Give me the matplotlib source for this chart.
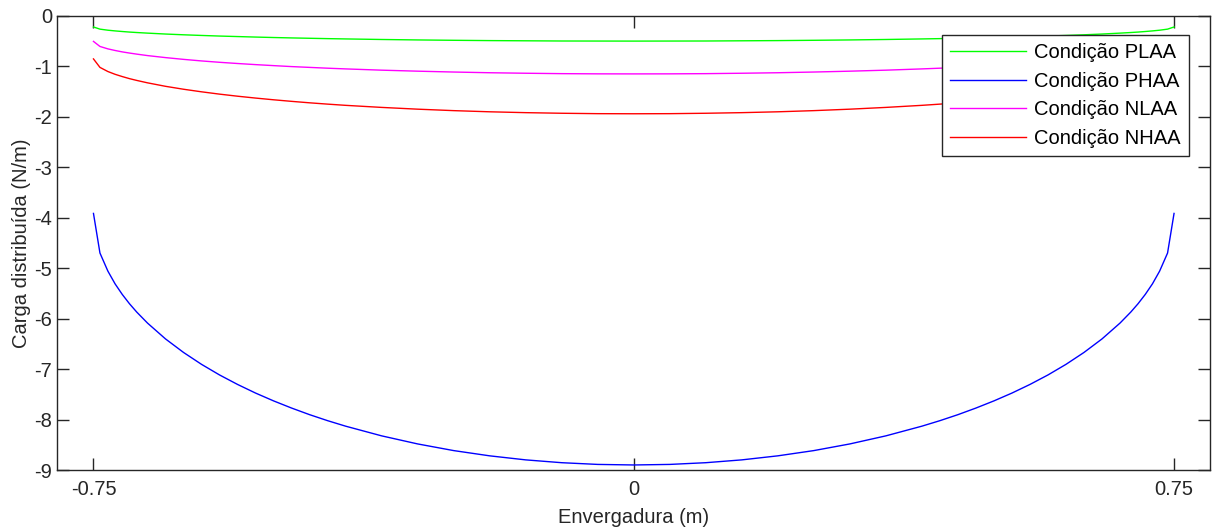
import numpy as np
import matplotlib.pyplot as plt

plt.rcParams['font.family'] = ['Liberation Sans', 'DejaVu Sans']
plt.rcParams['axes.unicode_minus'] = False

# Envergadura (m) - half span points, mirrored below
x_half = [-0.75, -0.741, -0.73, -0.72, -0.71, -0.70, -0.69, -0.675, -0.65, -0.625,
          -0.60, -0.575, -0.55, -0.525, -0.50, -0.475, -0.45, -0.425, -0.40,
          -0.35, -0.30, -0.25, -0.20, -0.15, -0.10, -0.05, 0.0]

plaa_half = [-0.22, -0.263, -0.284, -0.298, -0.310, -0.321, -0.330, -0.342, -0.360, -0.375,
             -0.388, -0.400, -0.410, -0.420, -0.429, -0.437, -0.444, -0.451, -0.457,
             -0.468, -0.477, -0.484, -0.490, -0.494, -0.498, -0.499, -0.500]
phaa_half = [-3.915, -4.70, -5.058, -5.311, -5.521, -5.705, -5.869, -6.088, -6.402, -6.670,
             -6.906, -7.116, -7.304, -7.475, -7.630, -7.772, -7.903, -8.022, -8.131,
             -8.323, -8.483, -8.615, -8.719, -8.799, -8.855, -8.889, -8.900]
nlaa_half = [-0.506, -0.606, -0.654, -0.686, -0.714, -0.737, -0.758, -0.787, -0.827, -0.862,
             -0.893, -0.920, -0.944, -0.966, -0.986, -1.005, -1.021, -1.037, -1.051,
             -1.076, -1.096, -1.113, -1.127, -1.137, -1.145, -1.149, -1.150]
nhaa_half = [-0.853, -1.021, -1.103, -1.158, -1.203, -1.244, -1.279, -1.327, -1.396, -1.454,
             -1.505, -1.551, -1.592, -1.629, -1.663, -1.694, -1.723, -1.749, -1.773,
             -1.814, -1.849, -1.878, -1.901, -1.918, -1.930, -1.938, -1.940]

labels = ['Condição PLAA', 'Condição PHAA', 'Condição NLAA', 'Condição NHAA']
colors = ['#00ff00', '#0000ff', '#ff00ff', '#ff0000']


def mirror(v, sign=1):
    v = np.array(v)
    return np.concatenate([v, sign * v[-2::-1]])


x = mirror(x_half, -1)
series = [mirror(plaa_half), mirror(phaa_half), mirror(nlaa_half), mirror(nhaa_half)]

fig = plt.figure(figsize=(12.12, 5.29), dpi=100)
ax = fig.add_axes([0.0474, 0.1115, 0.951, 0.8585])

for y, lab, c in zip(series, labels, colors):
    ax.plot(x, y, color=c, linewidth=1.0, label=lab)

ax.set_xlim(-0.8, 0.8)
ax.set_ylim(-9, 0)
ax.set_xticks([-0.75, 0, 0.75])
ax.set_xticklabels(['-0.75', '0', '0.75'])
ax.set_yticks(range(-9, 1))

dark = '#262626'
fs = 14.5
for s in ax.spines.values():
    s.set_color(dark)
    s.set_linewidth(1.0)
ax.tick_params(direction='in', length=8.5, width=1.0, colors=dark,
               top=True, right=True, labelsize=fs)
ax.tick_params(axis='y', pad=4)
ax.tick_params(axis='x', pad=7)

ax.set_xlabel('Envergadura (m)', fontsize=fs, color=dark, labelpad=7)
ax.set_ylabel('Carga distribuída (N/m)', fontsize=fs, color=dark, labelpad=2)

leg = ax.legend(loc='upper right', bbox_to_anchor=(0.982, 0.958), fontsize=fs,
                frameon=True, fancybox=False, framealpha=1, handlelength=3.78,
                borderpad=0.42, labelspacing=0.47, handletextpad=0.4,
                borderaxespad=0)
leg.get_frame().set_edgecolor(dark)
leg.get_frame().set_linewidth(1.0)
for t in leg.get_texts():
    t.set_color('black')

plt.savefig('out.png', dpi=100)
